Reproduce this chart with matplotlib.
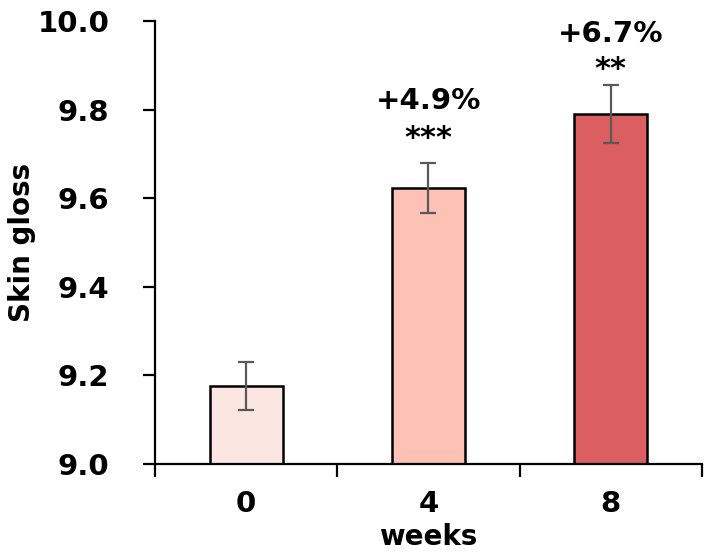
import matplotlib.pyplot as plt
import numpy as np

weeks = ["0", "4", "8"]
gloss = [9.176, 9.623, 9.790]
gloss_err = [0.054, 0.057, 0.065]
change_labels = ["", "+4.9%", "+6.7%"]
stars = ["", "***", "**"]
bar_colors = ["#FCE6E1", "#FDC1B5", "#DB5E60"]

plt.rcParams['font.family'] = ['DejaVu Sans']

fig = plt.figure(figsize=(7.09, 5.56), dpi=100)
ax = fig.add_axes([0.2186, 0.1655, 0.7714, 0.7965])

x = np.arange(len(weeks))
ax.bar(x, [g - 9.0 for g in gloss], bottom=9.0, width=0.4, color=bar_colors,
       edgecolor='black', linewidth=1.8, zorder=2)
ax.errorbar(x, gloss, yerr=gloss_err, fmt='none', ecolor='#595959',
            elinewidth=1.6, capsize=6, capthick=1.6, zorder=3)

# label offsets above the error bar (layout only)
star_off = [0, 0.055, 0.036]
pct_off = [0, 0.140, 0.117]
for i in range(len(weeks)):
    if change_labels[i]:
        top = gloss[i] + gloss_err[i]
        ax.text(x[i], top + star_off[i], stars[i], ha='center', va='center',
                fontsize=22, fontweight='bold')
        ax.text(x[i], top + pct_off[i], change_labels[i], ha='center', va='center',
                fontsize=21, fontweight='bold', clip_on=False)

ax.set_xlim(-0.5, 2.5)
ax.set_ylim(9.0, 10.0)
ax.set_yticks([9.0, 9.2, 9.4, 9.6, 9.8, 10.0])
ax.set_yticklabels(["9.0", "9.2", "9.4", "9.6", "9.8", "10.0"])
ax.set_xticks(x)
ax.set_xticklabels(weeks)
ax.set_xticks([-0.5, 0.5, 1.5, 2.5], minor=True)
ax.tick_params(axis='x', which='major', length=0, pad=19, labelsize=21)
ax.tick_params(axis='x', which='minor', length=9, width=1.6, direction='out')
ax.tick_params(axis='y', length=9, width=1.6, direction='out', pad=24, labelsize=21)
for lbl in ax.get_xticklabels() + ax.get_yticklabels():
    lbl.set_fontweight('bold')

ax.spines['top'].set_visible(False)
ax.spines['right'].set_visible(False)
ax.spines['left'].set_linewidth(1.6)
ax.spines['bottom'].set_linewidth(1.6)

ax.set_ylabel("Skin gloss", fontsize=20, fontweight='bold', labelpad=1)
ax.set_xlabel("weeks", fontsize=20, fontweight='bold', labelpad=3)

fig.savefig("out.png", dpi=100)
